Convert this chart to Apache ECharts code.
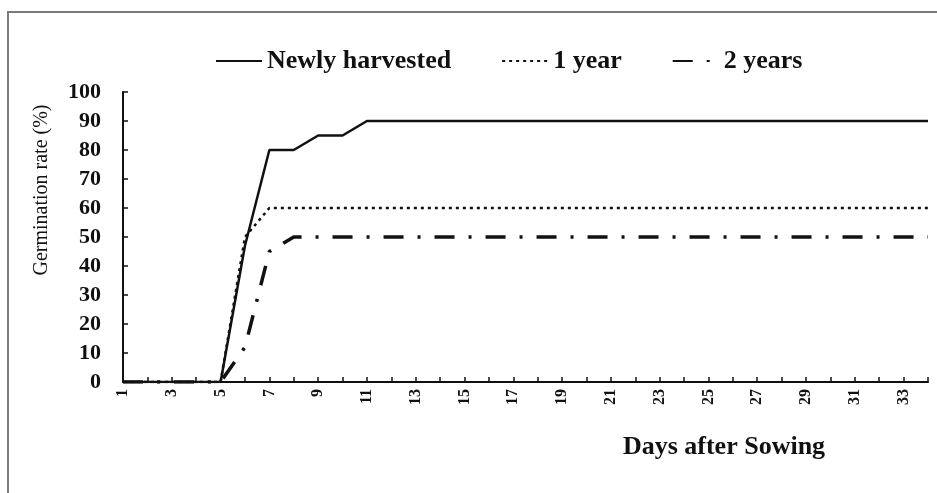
<!DOCTYPE html>
<html>
<head>
<meta charset="utf-8">
<script src="https://cdn.jsdelivr.net/npm/echarts@6/dist/echarts.min.js"></script>
<style>
  html, body { margin: 0; padding: 0; background: #fff; }
  #chart { width: 937px; height: 493px; }
</style>
</head>
<body>
<div id="chart"></div>
<script>
// Days after sowing (x categories)
const days = ['1','2','3','4','5','6','7','8','9','10','11','12','13','14','15','16','17','18','19','20','21','22','23','24','25','26','27','28','29','30','31','32','33','34'];
// Germination rate (%) per series
const newlyHarvested = [0,0,0,0,0,47,80,80,85,85,90,90,90,90,90,90,90,90,90,90,90,90,90,90,90,90,90,90,90,90,90,90,90,90];
const oneYear        = [0,0,0,0,0,50,60,60,60,60,60,60,60,60,60,60,60,60,60,60,60,60,60,60,60,60,60,60,60,60,60,60,60,60];
const twoYears       = [0,0,0,0,0,12,45,50,50,50,50,50,50,50,50,50,50,50,50,50,50,50,50,50,50,50,50,50,50,50,50,50,50,50];
const seriesNames = ['Newly harvested', '1 year', '2 years'];
const yTicks = [0,10,20,30,40,50,60,70,80,90,100];

const serif = '"Liberation Serif", "Times New Roman", serif';
const chart = echarts.init(document.getElementById('chart'), null, { renderer: 'canvas' });

chart.setOption({
  animation: false,
  backgroundColor: '#fff',
  graphic: [
    { type: 'rect', shape: { x: 8, y: 12, width: 940, height: 490 },
      style: { fill: 'none', stroke: '#7a7a7a', lineWidth: 2 }, silent: true },
    { type: 'text', x: 42, y: 190, rotation: Math.PI / 2,
      style: { text: 'Germination rate (%)', font: '20px ' + serif, fill: '#111',
               textAlign: 'center', textVerticalAlign: 'middle' } },
    { type: 'text', x: 724, y: 447,
      style: { text: 'Days after Sowing', font: 'bold 26px ' + serif, fill: '#111',
               textAlign: 'center', textVerticalAlign: 'middle' } }
  ],
  legend: {
    data: seriesNames,
    left: 210,
    top: 43,
    itemWidth: 46,
    itemHeight: 14,
    itemGap: 50,
    itemStyle: { opacity: 0 },
    textStyle: { fontFamily: serif, fontWeight: 'bold', fontSize: 26, color: '#111' }
  },
  grid: { left: 123, right: 9, top: 92, bottom: 111, containLabel: false },
  xAxis: {
    type: 'category',
    data: days,
    boundaryGap: false,
    axisLine: { lineStyle: { color: '#111', width: 2 } },
    axisTick: { inside: true, length: 5, interval: 0, lineStyle: { color: '#111', width: 1.5 } },
    axisLabel: { interval: 1, rotate: 90, margin: 7, fontFamily: serif, fontWeight: 'bold',
                 fontSize: 16, color: '#111' },
    splitLine: { show: false }
  },
  yAxis: {
    type: 'value',
    min: yTicks[0],
    max: yTicks[yTicks.length - 1],
    interval: 10,
    axisLine: { show: true, lineStyle: { color: '#111', width: 2 } },
    axisTick: { show: true, inside: true, length: 5, lineStyle: { color: '#111', width: 1.5 } },
    axisLabel: { margin: 22, fontFamily: serif, fontWeight: 'bold', fontSize: 22, color: '#111' },
    splitLine: { show: false }
  },
  series: [
    { name: seriesNames[0], type: 'line', data: newlyHarvested, symbol: 'none',
      lineStyle: { color: '#111', width: 2.5, type: 'solid' }, itemStyle: { color: '#111' } },
    { name: seriesNames[1], type: 'line', data: oneYear, symbol: 'none',
      lineStyle: { color: '#111', width: 2.5, type: [3, 4] }, itemStyle: { color: '#111' } },
    { name: seriesNames[2], type: 'line', data: twoYears, symbol: 'none',
      lineStyle: { color: '#111', width: 3.5, type: [20, 14, 3, 14] }, itemStyle: { color: '#111' } }
  ]
});
</script>
</body>
</html>
